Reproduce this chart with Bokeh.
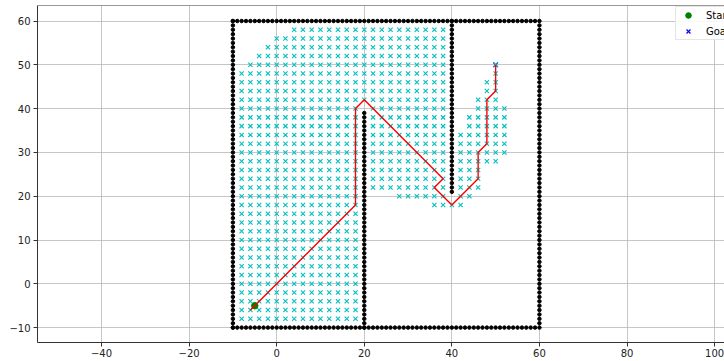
from bokeh.plotting import figure
from bokeh.models import Range1d, FixedTicker, CustomJSTickFormatter, Legend, LegendItem, Span
from bokeh.embed import file_html
from bokeh.resources import INLINE

# ---- data ----
# obstacle walls (dots every 1 unit): x0, y0, x1, y1
wall_x0 = [-10, 60, -10, -10, 20, 40]
wall_y0 = [-10, -10, 60, -10, -10, 21]
wall_x1 = [59, 60, 60, -10, 20, 40]
wall_y1 = [-10, 59, 60, 60, 39, 60]

start_x = [-5]
start_y = [-5]
goal_x = [50]
goal_y = [50]

# explored grid cells (grid step 2): row y -> list of inclusive x spans
explored_rows = [
    (58, [(4, 38)]),
    (56, [(0, 38)]),
    (54, [(-2, 38)]),
    (52, [(-4, 38)]),
    (50, [(-6, 38), (50, 50)]),
    (48, [(-8, 38), (50, 50)]),
    (46, [(-8, 38), (48, 50)]),
    (44, [(-8, 38), (48, 50)]),
    (42, [(-8, 38), (46, 50)]),
    (40, [(-8, 18), (22, 38), (46, 52)]),
    (38, [(-8, 18), (22, 38), (44, 52)]),
    (36, [(-8, 18), (22, 38), (44, 52)]),
    (34, [(-8, 18), (22, 38), (42, 52)]),
    (32, [(-8, 18), (22, 38), (42, 52)]),
    (30, [(-8, 18), (22, 38), (42, 52)]),
    (28, [(-8, 18), (22, 38), (42, 50)]),
    (26, [(-8, 18), (22, 38), (42, 46)]),
    (24, [(-8, 18), (22, 38), (42, 46)]),
    (22, [(-8, 18), (22, 38), (42, 46)]),
    (20, [(-8, 18), (28, 38), (42, 44)]),
    (18, [(-8, 18), (36, 42)]),
    (16, [(-8, 18)]),
    (14, [(-8, 18)]),
    (12, [(-8, 18)]),
    (10, [(-8, 18)]),
    (8, [(-8, 18)]),
    (6, [(-8, 18)]),
    (4, [(-8, 18)]),
    (2, [(-8, 18)]),
    (0, [(-8, 18)]),
    (-2, [(-8, 18)]),
    (-4, [(-8, 18)]),
    (-6, [(-8, 18)]),
    (-8, [(-8, 18)]),
]

# final path vertices
path_x = [-6, 18, 18, 20, 38, 36, 40, 46, 46, 48, 48, 50, 50]
path_y = [-6, 18, 40, 42, 24, 22, 18, 24, 30, 32, 42, 44, 50]

x_ticks = [-40, -20, 0, 20, 40, 60, 80, 100]
y_ticks = [-10, 0, 10, 20, 30, 40, 50, 60]

# ---- expand compact descriptions ----
ox, oy = [], []
for x0, y0, x1, y1 in zip(wall_x0, wall_y0, wall_x1, wall_y1):
    n = max(abs(x1 - x0), abs(y1 - y0))
    for i in range(n + 1):
        ox.append(x0 + (x1 - x0) * i / n)
        oy.append(y0 + (y1 - y0) * i / n)

ex, ey = [], []
for yy, spans in explored_rows:
    for a, b in spans:
        for xx in range(a, b + 1, 2):
            ex.append(xx)
            ey.append(yy)

FONT = "DejaVu Sans"
Y_TOP = 63.54

p = figure(frame_width=687, frame_height=337,
           x_range=Range1d(-54.62, 102.26), y_range=Range1d(-13.40, Y_TOP),
           output_backend="svg", toolbar_location=None,
           min_border_left=37, min_border_top=5, min_border_right=0, min_border_bottom=0)
p.background_fill_color = "white"
p.border_fill_color = "white"
p.outline_line_color = None

fmt = CustomJSTickFormatter(code="return String(tick).replace('-', '\\u2212')")
for ax in (p.xaxis[0], p.yaxis[0]):
    ax.axis_line_color = "#333333"
    ax.major_tick_line_color = "#333333"
    ax.major_tick_in = 0
    ax.major_tick_out = 4
    ax.minor_tick_line_color = None
    ax.major_label_text_font = FONT
    ax.major_label_text_font_size = "10px"
    ax.major_label_text_color = "#222222"
    ax.formatter = fmt
p.xaxis[0].ticker = FixedTicker(ticks=x_ticks)
p.yaxis[0].ticker = FixedTicker(ticks=y_ticks)
p.xaxis[0].major_label_standoff = 2
p.yaxis[0].major_label_standoff = 3
p.xgrid[0].ticker = FixedTicker(ticks=x_ticks)
p.ygrid[0].ticker = FixedTicker(ticks=y_ticks)
for g in (p.xgrid[0], p.ygrid[0]):
    g.grid_line_color = "#b8b8b8"
    g.grid_line_width = 0.8

# top frame edge (right edge lies outside the cropped reference)
p.add_layout(Span(location=Y_TOP, dimension="width", line_color="#333333", line_width=1))

p.scatter(ox, oy, marker="circle", size=3.5, color="black")
r_start = p.scatter(start_x, start_y, marker="circle", size=6.5, color="#008000")
r_goal = p.scatter(goal_x, goal_y, marker="x", size=6.5, line_color="#0000ff", line_width=1.2)
p.scatter(ex, ey, marker="x", size=6, line_color="#00bfbf", line_width=1.1)
p.line(path_x, path_y, line_color="#ff0000", line_width=1.4)

legend = Legend(items=[LegendItem(label="Start", renderers=[r_start]),
                       LegendItem(label="Goal", renderers=[r_goal])],
                location=(638, 302), padding=1, spacing=2, margin=0,
                glyph_height=14, glyph_width=22, label_standoff=7,
                label_text_font=FONT, label_text_font_size="10px",
                label_text_color="#000000",
                border_line_color="#cccccc", background_fill_color="white",
                background_fill_alpha=0.85)
p.add_layout(legend)

open("out.html", "w").write(file_html(p, INLINE))
